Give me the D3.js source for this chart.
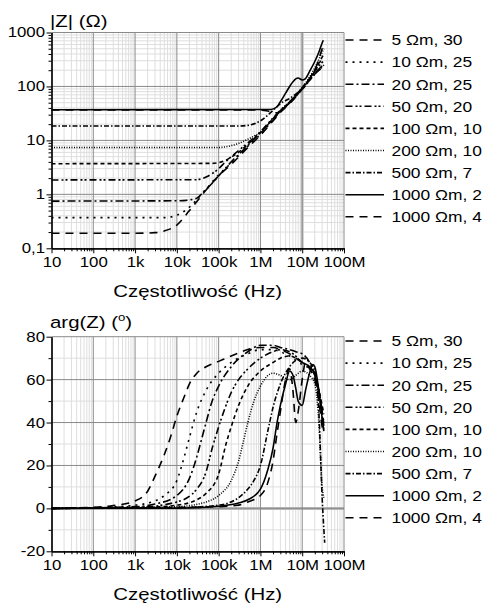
<!DOCTYPE html>
<html><head><meta charset="utf-8">
<script src="https://cdn.jsdelivr.net/npm/d3@7"></script>
<style>
body{margin:0;background:#fff}
text{font-family:"Liberation Sans",Arial,sans-serif;fill:#000}
</style>
</head><body>
<svg id="c" width="484" height="608"></svg>
<script>
// ---------------- DATA ----------------
const seriesNames = ["5 Ωm, 30","10 Ωm, 25","20 Ωm, 25","50 Ωm, 20","100 Ωm, 10","200 Ωm, 10","500 Ωm, 7","1000 Ωm, 2","1000 Ωm, 4"];
const freqTicks = [10,100,1e3,1e4,1e5,1e6,1e7,1e8];
const freqTickLabels = ["10","100","1k","10k","100k","1M","10M","100M"];
const zTicks = [0.1,1,10,100,1000];
const zTickLabels = ["0,1","1","10","100","1000"];
const phaseTicks = [-20,0,20,40,60,80];
const phaseTickLabels = ["-20","0","20","40","60","80"];

// |Z| (Ohm) vs frequency (Hz)
const mag5 = [[10,0.19],[1e3,0.19],[3e3,0.195],[5e3,0.21],[1e4,0.27],[2e4,0.5],[5e4,1.2],[1e5,2.2],[2e5,3.6],[5e5,7.4],[1e6,12.5],[2e6,23],[3e6,33],[5e6,48],[7e6,64],[1e7,90],[1.5e7,140],[2e7,200],[2.5e7,320],[3e7,500],[3.3e7,600]];
const mag10 = [[10,0.37],[5e3,0.37],[1e4,0.41],[2e4,0.58],[3e4,0.8],[5e4,1.25],[1e5,2.3],[2e5,3.8],[5e5,7.8],[1e6,13],[2e6,24],[3e6,34],[5e6,50],[7e6,67],[1e7,95],[1.5e7,140],[2e7,190],[2.5e7,260],[3e7,330],[3.3e7,350]];
const mag20 = [[10,0.75],[1.2e4,0.76],[3e4,0.85],[4.3e4,1.1],[7.5e4,1.7],[1e5,2.2],[2e5,4],[5e5,8],[1e6,14],[2e6,25],[3e6,35],[5e6,50],[7e6,65],[1e7,90],[1.5e7,130],[2e7,170],[2.5e7,210],[3e7,240],[3.3e7,250]];
const mag50 = [[10,1.85],[3e4,1.87],[5e4,2.1],[1e5,3.0],[1.5e5,4.1],[2e5,5],[5e5,9],[1e6,14.5],[2e6,26],[3e6,36],[5e6,52],[7e6,69],[1e7,95],[1.5e7,140],[2e7,190],[3e7,280],[3.3e7,300]];
const mag100 = [[10,3.7],[7e4,3.75],[1.5e5,4.3],[2e5,4.9],[3e5,6],[5e5,8.5],[1e6,14],[2e6,25],[3e6,35],[5e6,50],[7e6,67],[1e7,92],[1.5e7,140],[2e7,200],[3e7,350],[3.3e7,400]];
const mag200 = [[10,7.4],[1e5,7.4],[2e5,8],[3e5,8.8],[5e5,10.5],[7e5,12],[1e6,14],[2e6,25],[3e6,36],[5e6,52],[7e6,68],[1e7,95],[1.5e7,150],[2e7,220],[3e7,430],[3.3e7,500]];
const mag500 = [[10,18.5],[3e5,18.5],[5e5,19],[1e6,23],[2e6,36],[3e6,48],[5e6,60],[7e6,72],[1e7,88],[1.5e7,130],[2e7,170],[3e7,230],[3.3e7,250]];
const mag1000a = [[10,37],[1.8e6,37.5],[2.5e6,42],[3e6,52],[4e6,75],[5e6,100],[6e6,122],[7e6,138],[8e6,143],[1e7,132],[1.2e7,140],[1.5e7,190],[2e7,290],[2.5e7,430],[3e7,640],[3.2e7,720]];
const mag1000b = [[10,36.5],[1e6,36.5],[1.5e6,35],[2e6,33],[2.5e6,32.5],[3e6,35],[4e6,42],[5e6,50],[6e6,58],[7e6,67],[8e6,76],[1e7,92],[1.2e7,108],[1.5e7,135],[2e7,170],[2.5e7,200],[3e7,215],[3.3e7,220]];

// arg(Z) (deg) vs frequency (Hz)
const arg5 = [[10,0],[100,0.5],[300,1.3],[1e3,3.5],[2e3,8],[3e3,15],[5e3,25],[7e3,33],[1e4,43],[1.5e4,52],[2e4,58],[3e4,63],[5e4,66],[1e5,68.5],[2e5,71],[5e5,74],[1e6,75],[2e6,75],[3e6,74],[5e6,72],[7e6,70],[1e7,68],[1.5e7,66],[2e7,62],[2.5e7,55],[3e7,45],[3.3e7,38]];
const arg10 = [[10,0],[100,0.3],[1e3,1.5],[3e3,3.5],[5e3,6],[1e4,13],[1.5e4,24],[2e4,33],[3e4,45],[5e4,55],[1e5,63],[2e5,68],[5e5,72],[1e6,74],[2e6,74],[3e6,73],[5e6,71],[7e6,69],[1e7,67],[1.5e7,65],[2e7,60],[2.5e7,52],[3e7,44],[3.3e7,40]];
const arg20 = [[10,0],[1e3,0.8],[3e3,2],[1e4,6],[2e4,14],[3e4,24],[4e4,33],[5e4,40],[7e4,50],[1e5,57],[2e5,66],[5e5,73],[1e6,76],[2e6,76],[3e6,75],[5e6,74],[7e6,73],[1e7,72],[1.5e7,68],[2e7,62],[2.5e7,54],[3e7,42],[3.3e7,36]];
const arg50 = [[10,0],[1e3,0.4],[1e4,3],[3e4,9],[5e4,17],[7e4,28],[1e5,38],[1.5e5,48],[2e5,54],[3e5,60],[5e5,65],[1e6,70],[2e6,73],[3e6,74],[5e6,73],[7e6,71],[1e7,68],[1.5e7,66],[2e7,63],[2.5e7,55],[3e7,45],[3.3e7,40]];
const arg100 = [[10,0],[1e3,0.2],[1e4,1.5],[3e4,4],[5e4,7],[1e5,16],[1.5e5,30],[2e5,38],[3e5,48],[5e5,57],[1e6,64],[2e6,68],[3e6,70],[5e6,71],[7e6,70],[1e7,68],[1.5e7,66],[2e7,62],[2.5e7,55],[3e7,48],[3.3e7,44]];
const arg200 = [[10,0],[1e4,0.8],[5e4,3],[1e5,6],[2e5,13],[3e5,22],[4e5,32],[5e5,40],[7e5,50],[1e6,57],[2e6,63],[3e6,62],[5e6,60],[7e6,62],[1e7,64],[1.5e7,62],[2e7,58],[2.5e7,40],[3e7,10],[3.3e7,5]];
const arg500 = [[10,0],[1e4,0.3],[1e5,1.5],[3e5,5],[5e5,9],[7e5,13],[1e6,20],[1.5e6,36],[2e6,47],[3e6,58],[5e6,66],[7e6,69],[1e7,70],[1.5e7,68],[2e7,64],[2.5e7,45],[3e7,5],[3.3e7,-10],[3.45e7,-16]];
const arg1000a = [[10,0],[1e4,0.1],[1e5,1],[3e5,2.5],[5e5,4],[1e6,9],[1.5e6,18],[2e6,28],[2.5e6,40],[3e6,48],[4e6,58],[5e6,64],[6e6,62],[7e6,56],[8e6,50],[1e7,48],[1.2e7,55],[1.5e7,63],[1.8e7,67],[2e7,66],[2.5e7,55],[3e7,42],[3.3e7,36]];
const arg1000b = [[10,0],[1e5,0.8],[3e5,1.5],[5e5,3],[1e6,6],[1.5e6,12],[2e6,22],[2.5e6,35],[3e6,45],[4e6,60],[5e6,65],[6e6,55],[7e6,40],[8e6,45],[1e7,60],[1.2e7,68],[1.5e7,65],[2e7,60],[2.5e7,50],[3e7,38],[3.3e7,35]];

const magSeries = [mag5,mag10,mag20,mag50,mag100,mag200,mag500,mag1000a,mag1000b];
const argSeries = [arg5,arg10,arg20,arg50,arg100,arg200,arg500,arg1000a,arg1000b];

// ---------------- STYLE ----------------
const dashes = ["8,6","2,5","8,3,2,3","7,3,2,2,2,3","4,3","1,1.5","5,2,1.5,2",null,"8,6"];
const SX = 1.2;
const svg = d3.select("#c");

const x = d3.scaleLog().domain([10,1e8]).range([51.5,344]);
const yMag = d3.scaleLog().domain([0.1,1000]).range([248.3,32.5]);
const yArg = d3.scaleLinear().domain([-20,80]).range([551.3,336.7]);

function minorLog(lo, hi){ const out=[]; for(let d=lo; d<hi; d*=10){ for(let k=2;k<10;k++) out.push(d*k);} return out; }
const xMinor = minorLog(10,1e8);

function stretchText(sel){
  sel.each(function(){
    const t=d3.select(this);
    const xx=+t.attr("x")||0, yy=+t.attr("y")||0;
    t.attr("x",null).attr("y",null).attr("transform",`translate(${xx},${yy}) scale(${SX},1)`);
  });
}

function panel(y, yTicks, yLabels, yMinor, data, opts){
  const g = svg.append("g");
  const [r0,r1] = y.range();
  const clipId = "clip"+opts.id;
  svg.append("clipPath").attr("id",clipId).append("rect")
    .attr("x",x.range()[0]).attr("y",r1-2).attr("width",x.range()[1]-x.range()[0]).attr("height",r0-r1+4);
  const grid = g.append("g");
  grid.selectAll("line.mx").data(xMinor).join("line")
    .attr("x1",d=>x(d)).attr("x2",d=>x(d)).attr("y1",r1).attr("y2",r0)
    .attr("stroke","#dedede").attr("stroke-width",1);
  grid.selectAll("line.my").data(yMinor).join("line")
    .attr("y1",d=>y(d)).attr("y2",d=>y(d)).attr("x1",x.range()[0]).attr("x2",x.range()[1])
    .attr("stroke","#dedede").attr("stroke-width",1);
  if(opts.thickX) grid.append("line").attr("x1",x(opts.thickX)).attr("x2",x(opts.thickX)).attr("y1",r1).attr("y2",r0).attr("stroke","#c4c4c4").attr("stroke-width",3);
  if(opts.thickY!==undefined) grid.append("line").attr("y1",y(opts.thickY)).attr("y2",y(opts.thickY)).attr("x1",x.range()[0]).attr("x2",x.range()[1]).attr("stroke","#b8b8b8").attr("stroke-width",3);
  grid.selectAll("line.Mx").data(freqTicks.slice(1)).join("line")
    .attr("x1",d=>x(d)).attr("x2",d=>x(d)).attr("y1",r1).attr("y2",r0)
    .attr("stroke","#8a8a8a").attr("stroke-width",1);
  grid.selectAll("line.My").data(yTicks.slice(1)).join("line")
    .attr("y1",d=>y(d)).attr("y2",d=>y(d)).attr("x1",x.range()[0]).attr("x2",x.range()[1])
    .attr("stroke","#8a8a8a").attr("stroke-width",1);

  const line = d3.line().x(d=>x(d[0])).y(d=>y(d[1])).curve(d3.curveMonotoneX);
  const cg = g.append("g").attr("clip-path",`url(#${clipId})`);
  data.forEach((s,i)=>{
    cg.append("path").datum(s).attr("d",line).attr("fill","none")
      .attr("stroke","#000").attr("stroke-width",1.6)
      .attr("stroke-dasharray",dashes[i]);
  });

  const ax = g.append("g").attr("transform",`translate(0,${r0})`);
  ax.call(d3.axisBottom(x).tickValues(xMinor).tickSize(3).tickFormat("").tickSizeOuter(0));
  const axM = g.append("g").attr("transform",`translate(0,${r0})`);
  axM.call(d3.axisBottom(x).tickValues(freqTicks).tickSize(5).tickPadding(4).tickSizeOuter(0).tickFormat((d,i)=>freqTickLabels[i]));
  const ay = g.append("g").attr("transform",`translate(${x.range()[0]},0)`);
  ay.call(d3.axisLeft(y).tickValues(yMinor).tickSize(3).tickFormat("").tickSizeOuter(0));
  const ayM = g.append("g").attr("transform",`translate(${x.range()[0]},0)`);
  ayM.call(d3.axisLeft(y).tickValues(yTicks).tickSize(5).tickPadding(1.5).tickSizeOuter(0).tickFormat((d,i)=>yLabels[i]));
  [ax,axM,ay,ayM].forEach(a=>{
    a.selectAll("path.domain").attr("stroke","#000").attr("stroke-width",1.2);
    a.selectAll(".tick line").attr("stroke","#000");
    a.selectAll("text").attr("font-size",14).attr("font-family",'"Liberation Sans",Arial,sans-serif').attr("fill","#000");
  });
  stretchText(axM.selectAll("text"));
  stretchText(ayM.selectAll("text"));

  svg.append("text").attr("transform",`translate(${(x.range()[0]+x.range()[1])/2},${r0+49}) scale(${SX},1)`)
    .attr("text-anchor","middle").attr("font-size",17).text("Częstotliwość (Hz)");

  const lg = svg.append("g");
  seriesNames.forEach((n,i)=>{
    const yy = opts.legendY + i*22.1;
    lg.append("line").attr("x1",345.5).attr("x2",384).attr("y1",yy).attr("y2",yy)
      .attr("stroke","#000").attr("stroke-width",1.6).attr("stroke-dasharray",dashes[i]);
    lg.append("text").attr("transform",`translate(391.5,${yy+5.3}) scale(${SX},1)`)
      .attr("font-size",14.5).text(n);
  });
  return g;
}

panel(yMag, zTicks, zTickLabels, minorLog(0.1,1000), magSeries, {id:"a", thickX:1e7, legendY:40});
panel(yArg, phaseTicks, phaseTickLabels, [-10,10,30,50,70], argSeries, {id:"b", thickY:0, legendY:341});

svg.append("text").attr("transform",`translate(50,27) scale(${SX},1)`).attr("font-size",17).text("|Z| (Ω)");
const t2 = svg.append("text").attr("transform",`translate(50,328) scale(${SX},1)`).attr("font-size",17);
t2.append("tspan").text("arg(Z) (");
t2.append("tspan").attr("font-size",11).attr("dy",-7).text("o");
t2.append("tspan").attr("dy",7).text(")");
</script>
</body></html>
